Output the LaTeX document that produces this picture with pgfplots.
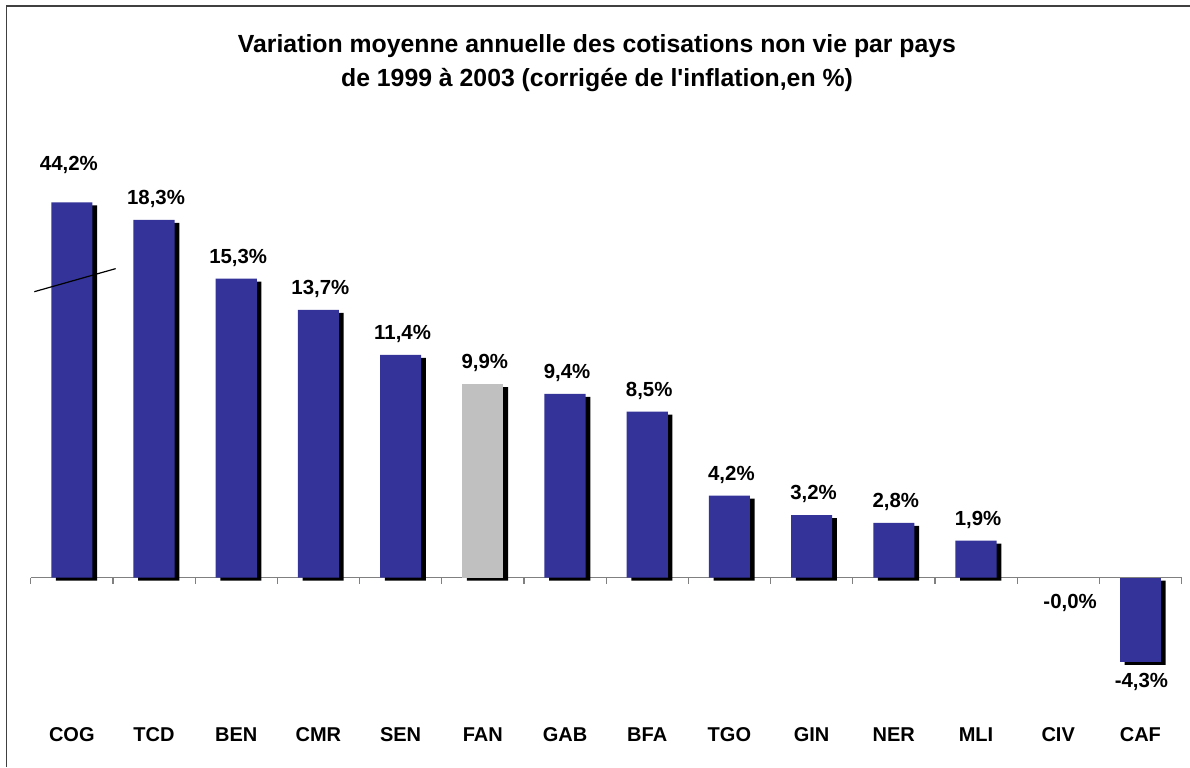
\documentclass[border=0pt]{standalone}
\usepackage{fontspec}
\setmainfont{Liberation Sans}
\usepackage{pgfplots}
\pgfplotsset{compat=1.18}
\definecolor{barblue}{RGB}{51,51,153}
\definecolor{bargray}{RGB}{192,192,192}
\definecolor{framegray}{RGB}{64,64,64}
\definecolor{axisgray}{RGB}{128,128,128}
\begin{document}
\begin{tikzpicture}
\path[use as bounding box] (0pt,0pt) rectangle (595pt,383.5pt);
\draw[framegray, line width=0.7pt] (3.3pt,0pt) -- (3.3pt,380.5pt) -- (595pt,380.5pt);
\node[align=center, font=\bfseries\fontsize{12.4}{17}\selectfont] at (298.5pt,351.8pt)
  {Variation moyenne annuelle des cotisations non vie par pays\\de 1999 à 2003 (corrigée de l\textquotesingle inflation,en \%)};
\begin{axis}[
  at={(15.35pt,23.29pt)}, anchor=south west,
  width=575.4pt, height=286.4pt, scale only axis,
  xmin=-0.5, xmax=13.5, ymin=-7.3, ymax=22,
  axis line style={draw=none},
  ytick=\empty,
  xtick={0,...,13},
  xticklabels={COG,TCD,BEN,CMR,SEN,FAN,GAB,BFA,TGO,GIN,NER,MLI,CIV,CAF},
  major tick length=0pt,
  xticklabel style={font=\bfseries\fontsize{10}{11}\selectfont, anchor=base, inner sep=0pt, yshift=-10.3pt},
  clip=false,
]
\draw[axisgray, line width=0.6pt] (axis cs:-0.5,0) -- (axis cs:13.5,0);
\pgfplotsinvokeforeach{-0.5,0.5,...,13.5}{\draw[axisgray, line width=0.6pt] (axis cs:#1,0) -- ++(0pt,-3pt);}
% shadows
\addplot[ybar, bar width=0.5, bar shift=0pt, fill=black, draw=none, xshift=2.35pt, yshift=-1.5pt]
  coordinates {(0,19.2) (1,18.3) (2,15.3) (3,13.7) (4,11.4) (5,9.9) (6,9.4) (7,8.5) (8,4.2) (9,3.2) (10,2.8) (11,1.9) (13,-4.3)};
% blue bars
\addplot[ybar, bar width=0.5, bar shift=0pt, fill=barblue, draw=none,
  nodes near coords, point meta=explicit symbolic,
  every node near coord/.append style={anchor=base, inner sep=0pt, yshift=7.6pt, xshift=1pt, font=\bfseries\fontsize{10.2}{11}\selectfont}]
  coordinates {(0,19.2)[] (1,18.3)[18,3\%] (2,15.3)[15,3\%] (3,13.7)[13,7\%] (4,11.4)[11,4\%] (6,9.4)[9,4\%] (7,8.5)[8,5\%] (8,4.2)[4,2\%] (9,3.2)[3,2\%] (10,2.8)[2,8\%] (11,1.9)[1,9\%]};
% gray bar
\addplot[ybar, bar width=0.5, bar shift=0pt, fill=bargray, draw=none,
  nodes near coords, point meta=explicit symbolic,
  every node near coord/.append style={anchor=base, inner sep=0pt, yshift=7.6pt, xshift=1pt, font=\bfseries\fontsize{10.2}{11}\selectfont}]
  coordinates {(5,9.9)[9,9\%]};
% negative bar
\addplot[ybar, bar width=0.5, bar shift=0pt, fill=barblue, draw=none] coordinates {(13,-4.3)};
% special labels
\addplot[only marks, mark=none, nodes near coords, point meta=explicit symbolic,
  every node near coord/.append style={anchor=base, inner sep=0pt, font=\bfseries\fontsize{10.2}{11}\selectfont}]
  coordinates {(-0.036,20.85)[44,2\%] (12.145,-1.55)[-0,0\%] (13.013,-5.64)[-4,3\%]};
% break mark on COG
\draw[black, line width=0.6pt] (axis cs:-0.456,14.63) -- (axis cs:0.534,15.81);
\end{axis}
\end{tikzpicture}
\end{document}
